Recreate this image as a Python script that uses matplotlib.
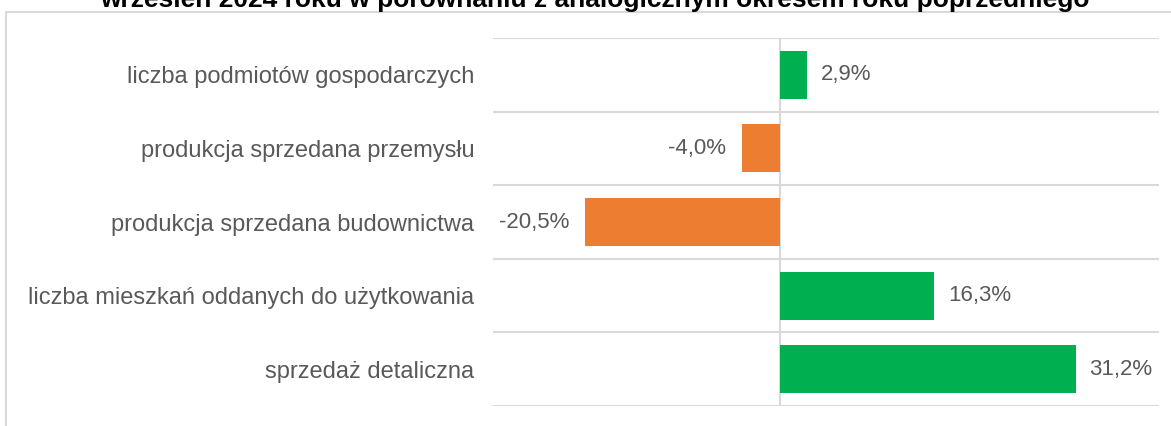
import matplotlib
matplotlib.use("Agg")
import matplotlib.pyplot as plt
from matplotlib.patches import Rectangle

plt.rcParams['font.family'] = ['Liberation Sans', 'DejaVu Sans']

# data (top to bottom as drawn)
categories = [
    "liczba podmiotów gospodarczych",
    "produkcja sprzedana przemysłu",
    "produkcja sprzedana budownictwa",
    "liczba mieszkań oddanych do użytkowania",
    "sprzedaż detaliczna",
]
values = [2.9, -4.0, -20.5, 16.3, 31.2]
title = "wrzesień 2024 roku w porównaniu z analogicznym okresem roku poprzedniego"

green = "#00B050"
orange = "#ED7D31"
grid_col = "#D9D9D9"
text_col = "#595959"

fig = plt.figure(figsize=(11.71, 4.26), dpi=100)
W, H = 1171, 426

# outer chart border (extends past the image edges)
fig.patches.append(Rectangle((6 / W, -0.1), 1.2, (H - 12) / H + 0.1,
                             transform=fig.transFigure, fill=False,
                             edgecolor=grid_col, linewidth=1.5))

# title, cut off at the top as in the source
fig.text(595 / W, 1 - 7 / H, title, ha="center", va="baseline",
         fontsize=19, fontweight="bold", color="black")

ax = fig.add_axes([493 / W, 1 - 406 / H, (1159 - 493) / W, (406 - 38) / H])

n = len(categories)
ypos = list(range(n))
colors = [green if v >= 0 else orange for v in values]
ax.barh(ypos, values, height=0.65, color=colors, zorder=3)

ax.set_xlim(-30.2, 40)
ax.set_ylim(n - 0.5, -0.5)

# category separators
for b in range(n + 1):
    ax.axhline(b - 0.5, color=grid_col, linewidth=1.5, zorder=1)
ax.axvline(0, color=grid_col, linewidth=1.5, zorder=2)

for sp in ax.spines.values():
    sp.set_visible(False)
ax.set_xticks([])
ax.set_yticks(ypos)
ax.set_yticklabels(categories, fontsize=17, color=text_col)
ax.tick_params(axis="y", length=0, pad=13.5)

for y, v in zip(ypos, values):
    lbl = f"{v:.1f}%".replace(".", ",")
    if v >= 0:
        ax.annotate(lbl, (v, y), xytext=(10, 0), textcoords="offset points",
                    ha="left", va="center", fontsize=16, color=text_col)
    else:
        ax.annotate(lbl, (v, y), xytext=(-11.5, 0), textcoords="offset points",
                    ha="right", va="center", fontsize=16, color=text_col)

fig.savefig("out.png", dpi=100)
